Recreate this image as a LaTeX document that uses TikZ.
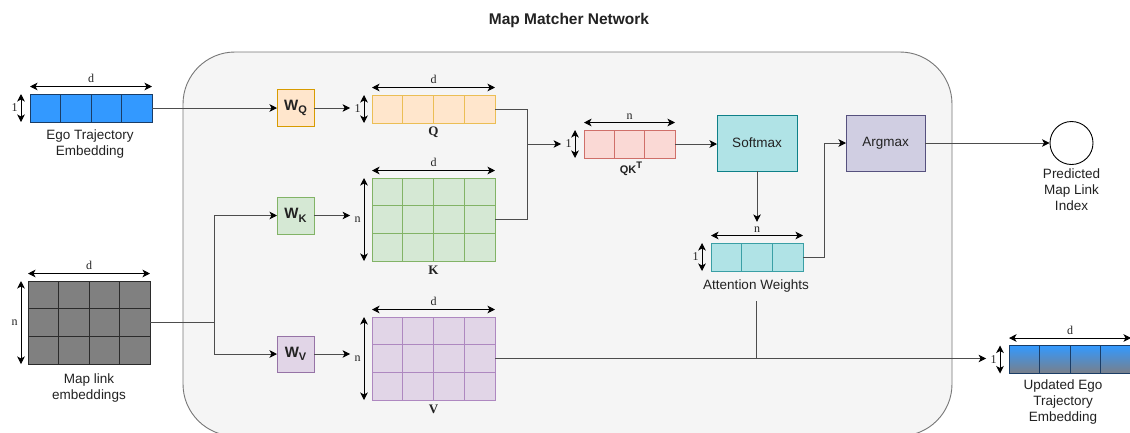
\documentclass[tikz,border=0pt]{standalone}
\usepackage{fontspec}
\setmainfont{Liberation Serif}
\setsansfont{Liberation Sans}
\usetikzlibrary{arrows.meta,calc}
\definecolor{bgfill}{HTML}{F5F5F5}
\definecolor{bgline}{HTML}{777777}
\definecolor{egoblue}{HTML}{3399FF}
\definecolor{egoline}{HTML}{1A3D66}
\definecolor{qfill}{HTML}{FFE6CC}
\definecolor{wqline}{HTML}{D79B00}
\definecolor{qline}{HTML}{EBBE55}
\definecolor{kfill}{HTML}{D5E8D4}
\definecolor{kline}{HTML}{82B366}
\definecolor{vfill}{HTML}{E1D5E7}
\definecolor{vline}{HTML}{9673A6}
\definecolor{vmline}{HTML}{AE88C0}
\definecolor{qkfill}{HTML}{FAD9D5}
\definecolor{qkline}{HTML}{CF6F69}
\definecolor{smfill}{HTML}{B0E3E6}
\definecolor{smline}{HTML}{0E8088}
\definecolor{attline}{HTML}{3A9FA5}
\definecolor{amfill}{HTML}{D0CEE2}
\definecolor{amline}{HTML}{56517E}
\definecolor{mapfill}{HTML}{808080}
\definecolor{mapline}{HTML}{2B2B2B}
\definecolor{updgray}{HTML}{7A7F88}
\definecolor{txt}{HTML}{222222}
\definecolor{wire}{HTML}{4D4D4D}

\newcommand{\gridV}[3]{\foreach \i in {1,...,#2}{\pgfmathsetmacro{\fr}{\i/(#2+1)}\draw[#3] ($(#1.north west)!\fr!(#1.north east)$) -- ($(#1.south west)!\fr!(#1.south east)$);}}
\newcommand{\gridH}[3]{\foreach \i in {1,...,#2}{\pgfmathsetmacro{\fr}{\i/(#2+1)}\draw[#3] ($(#1.north west)!\fr!(#1.south west)$) -- ($(#1.north east)!\fr!(#1.south east)$);}}

\begin{document}
\begin{tikzpicture}[x=1pt,y=-1pt,
  mat/.style={draw, inner sep=0pt, outer sep=0pt, anchor=north west, line width=0.9pt},
  wbox/.style={mat, minimum width=37, minimum height=37, font=\fontsize{15}{17}\sffamily\bfseries, text=txt},
  opbox/.style={mat, minimum width=80, minimum height=56, font=\fontsize{13.5}{16}\sffamily, text=txt},
  lbl/.style={align=center, font=\fontsize{13.5}{16}\sffamily, text=txt},
  dlbl/.style={font=\fontsize{12}{14}\rmfamily, text=txt, inner sep=3pt},
  dim/.style={draw=black, line width=0.9pt, {Stealth[length=7.5pt,width=7.5pt,inset=2pt]}-{Stealth[length=7.5pt,width=7.5pt,inset=2pt]}},
  conn/.style={draw=wire, line width=0.9pt},
  arr/.style={conn, -{Stealth[length=7.5pt,width=7.5pt,inset=2pt,color=black]}}
]
\useasboundingbox (0,0) rectangle (1130,432);
\fill[white] (0,0) rectangle (1130,432);

% title
\node[font=\fontsize{15.5}{18}\sffamily\bfseries, text=txt] (title) at (569,20) {Map Matcher Network};

% container
\draw[fill=bgfill, draw=bgline, line width=0.9pt, rounded corners=52pt] (183,52) rectangle (952,436);

% ---- Ego trajectory embedding
\node[mat, fill=egoblue, draw=egoline, minimum width=122, minimum height=28] (ego) at (30,94) {};
\gridV{ego}{3}{egoline, line width=0.9pt}
\draw[dim] ([yshift=7.5pt]ego.north west) -- ([yshift=7.5pt]ego.north east) node[dlbl, midway, above] (egod) {d};
\draw[dim] ([xshift=-9pt]ego.north west) -- ([xshift=-9pt]ego.south west) node[dlbl, midway, left] (ego1) {1};
\node[lbl] (egolbl) at (90,144) {Ego Trajectory\\Embedding};

% ---- Map link embeddings
\node[mat, fill=mapfill, draw=mapline, minimum width=122, minimum height=83] (map) at (28,281) {};
\gridV{map}{3}{mapline, line width=0.9pt}
\gridH{map}{2}{mapline, line width=0.9pt}
\draw[dim] ([yshift=7.5pt]map.north west) -- ([yshift=7.5pt]map.north east) node[dlbl, midway, above] (mapd) {d};
\draw[dim] ([xshift=-7pt]map.north west) -- ([xshift=-7pt]map.south west) node[dlbl, midway, left] (mapn) {n};
\node[lbl] (maplbl) at (89,388) {Map link\\embeddings};

% ---- W boxes
\node[wbox, fill=qfill, draw=wqline] (wq) at (277,89.5) {W\raisebox{-0.45ex}{\fontsize{11}{12}\selectfont Q}};
\node[wbox, fill=kfill, draw=kline] (wk) at (277,197) {W\raisebox{-0.45ex}{\fontsize{11}{12}\selectfont K}};
\node[wbox, fill=vfill, draw=vline, minimum height=36] (wv) at (277,336) {W\raisebox{-0.45ex}{\fontsize{11}{12}\selectfont V}};

% ---- Q
\node[mat, fill=qfill, draw=qline, minimum width=123, minimum height=28] (q) at (372,95) {};
\gridV{q}{3}{qline, line width=0.9pt}
\draw[dim] ([yshift=7.5pt]q.north west) -- ([yshift=7.5pt]q.north east) node[dlbl, midway, above] (qd) {d};
\draw[dim] ([xshift=-8pt]q.north west) -- ([xshift=-8pt]q.south west) node[dlbl, midway, left] (q1) {1};
\node[font=\fontsize{13}{15}\rmfamily\bfseries, text=txt] (qlbl) at (433.5,132.5) {Q};

% ---- K
\node[mat, fill=kfill, draw=kline, minimum width=123, minimum height=83] (k) at (372,178) {};
\gridV{k}{3}{kline, line width=0.9pt}
\gridH{k}{2}{kline, line width=0.9pt}
\draw[dim] ([yshift=7.5pt]k.north west) -- ([yshift=7.5pt]k.north east) node[dlbl, midway, above] (kd) {d};
\draw[dim] ([xshift=-8pt]k.north west) -- ([xshift=-8pt]k.south west) node[dlbl, midway, left] (kn) {n};
\node[font=\fontsize{13}{15}\rmfamily\bfseries, text=txt] (klbl) at (433.5,270.5) {K};

% ---- V
\node[mat, fill=vfill, draw=vmline, minimum width=123, minimum height=83] (v) at (372,317) {};
\gridV{v}{3}{vmline, line width=0.9pt}
\gridH{v}{2}{vmline, line width=0.9pt}
\draw[dim] ([yshift=7.5pt]v.north west) -- ([yshift=7.5pt]v.north east) node[dlbl, midway, above] (vd) {d};
\draw[dim] ([xshift=-8pt]v.north west) -- ([xshift=-8pt]v.south west) node[dlbl, midway, left] (vn) {n};
\node[font=\fontsize{13}{15}\rmfamily\bfseries, text=txt] (vlbl) at (433.5,409.5) {V};

% ---- QK^T
\node[mat, fill=qkfill, draw=qkline, minimum width=91, minimum height=28] (qk) at (584,130) {};
\gridV{qk}{2}{qkline, line width=0.9pt}
\draw[dim] ([yshift=7.5pt]qk.north west) -- ([yshift=7.5pt]qk.north east) node[dlbl, midway, above] (qkn) {n};
\draw[dim] ([xshift=-9pt]qk.north west) -- ([xshift=-9pt]qk.south west) node[dlbl, midway, left] (qk1) {1};
\node[font=\fontsize{11}{13}\sffamily\bfseries, text=txt] (qklbl) at (631,169) {QK\raisebox{0.9ex}{\fontsize{9.5}{10}\selectfont T}};

% ---- Softmax, Attention weights, Argmax
\node[opbox, fill=smfill, draw=smline] (soft) at (717,115) {Softmax};
\node[mat, fill=smfill, draw=attline, minimum width=92, minimum height=28] (att) at (711,243) {};
\gridV{att}{2}{attline, line width=0.9pt}
\draw[dim] ([yshift=7.5pt]att.north west) -- ([yshift=7.5pt]att.north east) node[dlbl, midway, above] (attn) {n};
\draw[dim] ([xshift=-9pt]att.north west) -- ([xshift=-9pt]att.south west) node[dlbl, midway, left] (att1) {1};
\node[lbl] (attlbl) at (756,286.5) {Attention Weights};
\node[opbox, fill=amfill, draw=amline, minimum width=79] (arg) at (846,115) {Argmax};

% ---- output circle
\node[circle, draw=black, fill=white, line width=0.9pt, minimum size=43, inner sep=0pt] (circ) at (1071.5,143) {};
\node[lbl] (circlbl) at (1071.5,190) {Predicted\\Map Link\\Index};

% ---- Updated ego trajectory embedding
\node[mat, top color=egoblue, bottom color=updgray, draw=egoline, minimum width=122, minimum height=28] (upd) at (1009,345.5) {};
\gridV{upd}{3}{egoline, line width=0.9pt}
\draw[dim] ([yshift=7.5pt]upd.north west) -- ([yshift=7.5pt]upd.north east) node[dlbl, midway, above] (updd) {d};
\draw[dim] ([xshift=-9pt]upd.north west) -- ([xshift=-9pt]upd.south west) node[dlbl, midway, left] (upd1) {1};
\node[lbl] (updlbl) at (1063,402) {Updated Ego\\Trajectory\\Embedding};

% ---- connectors
\draw[arr] (ego.east) -- (ego.east -| wq.west);
\draw[arr] (wq.east) -- ([xshift=-1pt]wq.east -| q1.west);
\draw[arr] (wk.east) -- ([xshift=-1pt]wk.east -| kn.west);
\draw[arr] (wv.east) -- ([xshift=-1pt]wv.east -| vn.west);

\coordinate (split) at (214,0 |- map.east);
\draw[conn] (map.east) -- (split);
\draw[arr] (split) |- (wk.west);
\draw[arr] (split) |- (wv.west);

\coordinate (qkj) at (527,0 |- qk.west);
\draw[conn] (q.east) -| (qkj);
\draw[conn] (k.east) -| (qkj);
\draw[arr] (qkj) -- ([xshift=-1pt]qkj -| qk1.west);

\draw[arr] (qk.east) -- (qk.east -| soft.west);
\draw[arr] (soft.south) -- ([yshift=1pt]soft.south |- attn.north);

\coordinate (attup) at (824,0 |- arg.west);
\draw[arr] (att.east) -| (attup) -- (arg.west);
\draw[arr] (arg.east) -- (circ.west);

\coordinate (vj) at (756,0 |- v.east);
\draw[conn] ([yshift=-5pt]attlbl.south) -- (vj);
\draw[arr] (v.east) -- ([xshift=-1pt]vj -| upd1.west);
\end{tikzpicture}
\end{document}
